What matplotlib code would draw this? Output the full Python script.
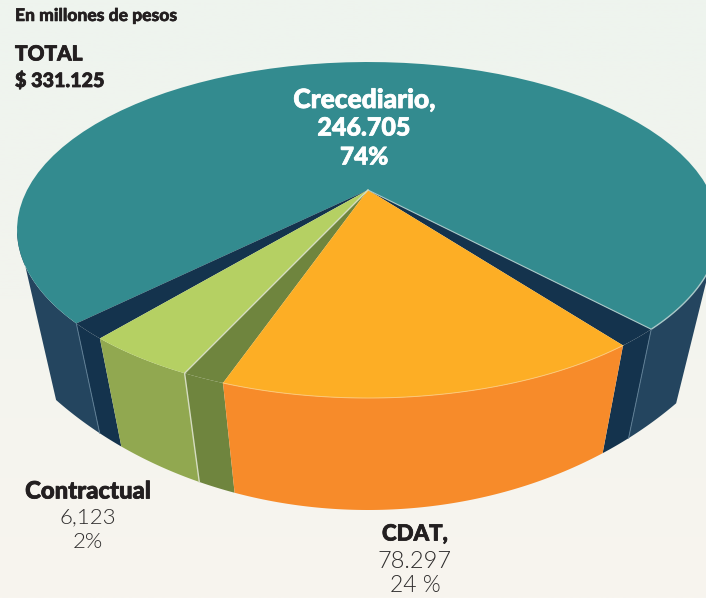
import numpy as np
import matplotlib
matplotlib.use("Agg")
import matplotlib.pyplot as plt
import matplotlib.patheffects as pe
from matplotlib.colors import LinearSegmentedColormap

plt.rcParams["font.family"] = ["Lato", "DejaVu Sans"]

# values as printed on the chart
names = ["Crecediario,", "CDAT,", "Contractual"]
values = [246705, 78297, 6123]
value_labels = ["246.705", "78.297", "6,123"]
percent_labels = ["74%", "24 %", "2%"]
total_label = "$ 331.125"

# sweep of each part on the drawn rim (the drawing is not to scale)
sweep_teal = 250.0
sweep_orange = 71.0
sweep_olive_wall = 7.1
sweep_green = 18.3
gap_right = 7.2
gap_left = 6.4
start_angle = 36.2

# top ellipse and apex, in pixels
CX, CY, RX, RY = 368, 230, 351, 168
APEX = (368, 190)
# bottom curve
SHRINK = 0.92
BX, BY, BRY = 420, 177, 333


def rim(a, b, n=80):
    t = np.radians(np.linspace(a, b, n))
    return np.column_stack([CX + RX * np.cos(t), CY + RY * np.sin(t)])


def base(a, b, n=80):
    t = np.radians(np.linspace(a, b, n))
    dx = SHRINK * RX * np.cos(t)
    return np.column_stack([CX + dx, BY + BRY * np.sqrt(1 - (dx / BX) ** 2)])


def wall(ax, a, b, color):
    pts = np.vstack([rim(a, b), base(b, a)])
    ax.fill(pts[:, 0], pts[:, 1], color=color, lw=0)


def top(ax, a, b, color):
    pts = np.vstack([[APEX], rim(a, b)])
    ax.fill(pts[:, 0], pts[:, 1], color=color, lw=0)


def heavy(ax, x, y, s, size, color, ha="center", stroke=0.55):
    ax.text(x, y, s, fontsize=size, fontweight="black", color=color, ha=ha, va="center",
            path_effects=[pe.withStroke(linewidth=stroke, foreground=color)])


def thin(ax, x, y, s, size):
    ax.text(x, y, s, fontsize=size, fontweight=300, color="#2e2c2c", ha="center", va="center")


fig = plt.figure(figsize=(7.06, 5.98), dpi=100)
ax = fig.add_axes([0, 0, 1, 1])

bg = LinearSegmentedColormap.from_list("bg", ["#eef4ee", "#f3f4ee", "#f8f5ef"])
ax.imshow(np.linspace(0, 1, 256).reshape(-1, 1), cmap=bg, extent=[0, 706, 598, 0], aspect="auto")

# angles going round from the right side through the front
a_orange = start_angle + gap_right
b_orange = a_orange + sweep_orange
b_olive = b_orange + sweep_olive_wall
b_green = b_olive + sweep_green
b_gap = b_green + gap_left

NAVY = "#14334d"
OUTER = "#24455f"

# outer wall of the big slice, left and right of the cut
pts = np.vstack([rim(b_gap, 180), base(165, b_gap)])
ax.fill(pts[:, 0], pts[:, 1], color=OUTER, lw=0)
pts = np.vstack([rim(start_angle, 0), base(17.4, start_angle)])
ax.fill(pts[:, 0], pts[:, 1], color=OUTER, lw=0)

# inner walls seen through the cut
wall(ax, start_angle, a_orange, NAVY)
wall(ax, b_green, b_gap, NAVY)

# big slice top
top(ax, b_gap, b_gap + sweep_teal, "#338b8f")
top(ax, start_angle, a_orange, NAVY)
top(ax, b_green, b_gap, NAVY)

# green slice
wall(ax, b_olive, b_green, "#91a850")
wall(ax, b_orange, b_olive, "#6f853e")
top(ax, b_olive, b_green, "#b5d063")
top(ax, b_orange, b_olive, "#6f853e")

# orange slice
wall(ax, a_orange, b_orange, "#f78b2a")
top(ax, a_orange, b_orange, "#fdae25")

# thin light edges
r = rim(a_orange, b_orange)
ax.plot(r[:, 0], r[:, 1], color="#fcc878", lw=0.7)
r = rim(start_angle, 0)
ax.plot(r[:, 0], r[:, 1], color="#a9c8c8", lw=1)
p = rim(start_angle, start_angle, 1)[0]
ax.plot([APEX[0], p[0]], [APEX[1], p[1]], color="#a9c8c8", lw=0.8)
p = rim(b_olive, b_olive, 1)[0]
q = base(b_olive, b_olive, 1)[0]
ax.plot([APEX[0], p[0], q[0]], [APEX[1], p[1], q[1]], color="#d5dcc0", lw=1)
for ang in (start_angle, b_gap):
    p = rim(ang, ang, 1)[0]
    q = base(ang, ang, 1)[0]
    ax.plot([p[0], q[0]], [p[1], q[1]], color="#5d7d94", lw=0.7)

DARK = "#231f20"

heavy(ax, 15, 16, "En millones de pesos", 12.6, DARK, ha="left", stroke=0.4)
heavy(ax, 15, 54, "TOTAL", 15, DARK, ha="left")
heavy(ax, 15, 80, total_label, 14.2, DARK, ha="left")

heavy(ax, 364, 100, names[0], 19, "white")
heavy(ax, 364, 128, value_labels[0], 18, "white")
heavy(ax, 364, 157, percent_labels[0], 17.5, "white")

heavy(ax, 415, 534, names[1], 16, DARK)
thin(ax, 415, 561, value_labels[1], 17)
thin(ax, 415, 586, percent_labels[1], 16.5)

heavy(ax, 88, 491, names[2], 17.2, DARK)
thin(ax, 88, 517, value_labels[2], 16)
thin(ax, 88, 542, percent_labels[2], 16)

ax.set_xlim(0, 706)
ax.set_ylim(598, 0)
ax.axis("off")

fig.savefig("out.png", dpi=100)
